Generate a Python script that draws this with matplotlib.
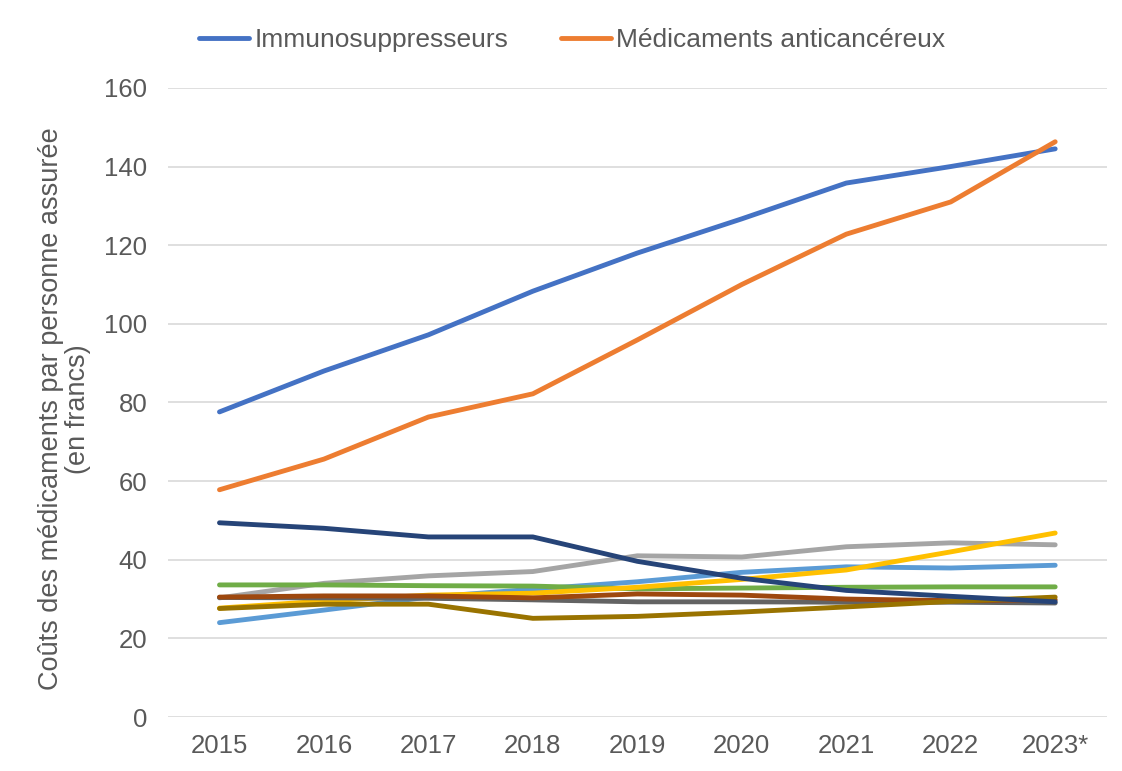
import matplotlib
matplotlib.use("Agg")
import matplotlib.pyplot as plt

years = ["2015", "2016", "2017", "2018", "2019", "2020", "2021", "2022", "2023*"]
immuno = [77.6, 88.0, 97.2, 108.3, 118.0, 126.7, 135.8, 140.0, 144.5]
anticancer = [57.8, 65.6, 76.3, 82.2, 95.9, 110.0, 122.8, 131.0, 146.3]
grey_s = [30.3, 34.0, 35.9, 37.0, 41.0, 40.7, 43.3, 44.3, 43.8]
lightblue_s = [24.0, 27.2, 30.5, 32.5, 34.4, 36.8, 38.2, 37.9, 38.6]
yellow_s = [27.7, 29.5, 31.0, 31.5, 33.0, 35.0, 37.4, 42.0, 46.8]
green_s = [33.6, 33.6, 33.4, 33.3, 32.6, 32.8, 33.0, 33.1, 33.1]
brown_s = [30.5, 30.8, 30.8, 30.3, 31.3, 31.0, 30.0, 29.6, 29.8]
darkgray_s = [30.4, 30.3, 30.2, 29.8, 29.3, 29.3, 29.2, 29.2, 29.0]
olive_s = [27.6, 28.7, 28.7, 25.1, 25.6, 26.7, 28.0, 29.4, 30.5]
navy_s = [49.4, 48.0, 45.8, 45.8, 39.6, 35.3, 32.2, 30.7, 29.3]

plt.rcParams['font.family'] = ['Liberation Sans', 'DejaVu Sans']
fig = plt.figure(figsize=(11.22, 7.71), dpi=100)
ax = fig.add_axes([0.15, 0.07, 0.837, 0.816])
x = list(range(len(years)))
lw = 3.5
others = [
    (grey_s, "#A5A5A5"),
    (lightblue_s, "#5B9BD5"),
    (green_s, "#70AD47"),
    (yellow_s, "#FFC000"),
    (darkgray_s, "#636363"),
    (brown_s, "#9E480E"),
    (olive_s, "#997300"),
    (navy_s, "#264478"),
]
for s, c in others:
    ax.plot(x, s, color=c, lw=lw, solid_capstyle='round')
l1, = ax.plot(x, immuno, color="#4472C4", lw=lw, solid_capstyle='round', label="Immunosuppresseurs")
l2, = ax.plot(x, anticancer, color="#ED7D31", lw=lw, solid_capstyle='round', label="Médicaments anticancéreux")

ax.set_xlim(-0.49, 8.5)
ax.set_ylim(0, 160)
ax.set_yticks(range(0, 161, 20))
ax.set_xticks(x)
ax.set_xticklabels(years)
ax.grid(axis='y', color='#D9D9D9', lw=1.2)
ax.set_axisbelow(True)
for sp in ax.spines.values():
    sp.set_visible(False)
ax.tick_params(length=0, labelsize=18.5, colors='#595959')
ax.tick_params(axis='y', pad=15)
ax.tick_params(axis='x', pad=12)
ax.set_ylabel("Coûts des médicaments par personne assurée\n(en francs)", fontsize=19.5, color='#595959',
              linespacing=1.05)
ax.yaxis.set_label_coords(-0.082, 0.49)
fig.legend(handles=[l1, l2], loc='center', bbox_to_anchor=(0.51, 0.948), ncol=2, frameon=False,
           fontsize=19, labelcolor='#595959', handlelength=1.9, handletextpad=0.2, columnspacing=2.0)
fig.savefig("out.png", dpi=100)
